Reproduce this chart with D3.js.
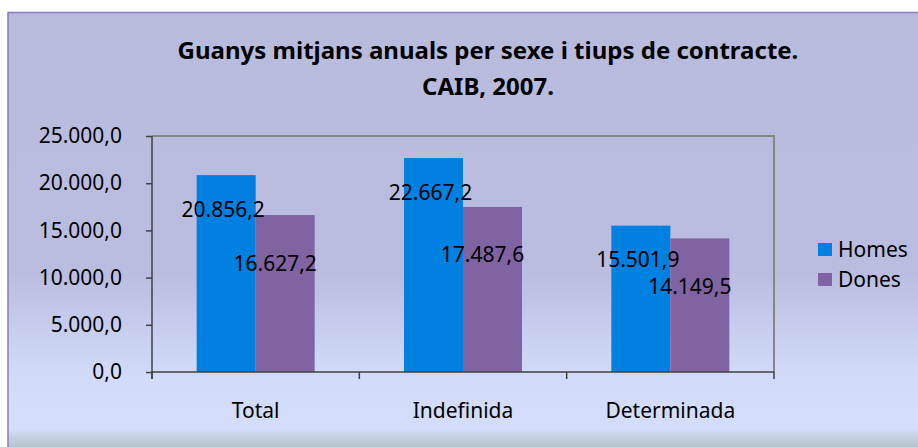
<!DOCTYPE html>
<html>
<head>
<meta charset="utf-8">
<script src="https://cdn.jsdelivr.net/npm/d3@7"></script>
<style>
  body { margin: 0; background: #fff; }
  text { font-family: "Noto Sans", "Open Sans", sans-serif; fill: #000; }
</style>
</head>
<body>
<svg id="chart"></svg>
<script>
const categories = ['Total', 'Indefinida', 'Determinada'];
const series = ['Homes', 'Dones'];
const homesValues = [20856.2, 22667.2, 15501.9];
const donesValues = [16627.2, 17487.6, 14149.5];
const yTicks = [0, 5000, 10000, 15000, 20000, 25000];
const titleLines = ['Guanys mitjans anuals per sexe i tiups de contracte.', 'CAIB, 2007.'];

const width = 918, height = 447;
const colors = { Homes: '#0080e0', Dones: '#8064a2' };
// label nudges per series (Excel labels sit off-centre)
const labelNudge = { Homes: { dx: -3, dy: 34 }, Dones: { dx: -10, dy: 48 } };

const rows = categories.map((c, i) => ({ cat: c, Homes: homesValues[i], Dones: donesValues[i] }));

const locale = d3.formatLocale({ decimal: ',', thousands: '.', grouping: [3], currency: ['', '€'] });
const fmt = locale.format(',.1f');

const svg = d3.select('#chart')
  .attr('width', width)
  .attr('height', height);

// background gradient
const grad = svg.append('defs').append('linearGradient')
  .attr('id', 'bg')
  .attr('x1', 0).attr('y1', 0).attr('x2', 0).attr('y2', 1);
[[0, '#b9bbdd'], [0.6, '#babde0'], [0.83, '#d1dbf9'], [0.955, '#d4defc'], [0.975, '#c3d0e0'], [1, '#b3c3c8']]
  .forEach(s => grad.append('stop').attr('offset', s[0]).attr('stop-color', s[1]));

svg.append('rect')
  .attr('x', 8).attr('y', 12.5)
  .attr('width', width).attr('height', 436)
  .attr('fill', 'url(#bg)')
  .attr('stroke', '#8c7cbf')
  .attr('stroke-width', 1.5);

const plot = { left: 152, right: 774, top: 136, bottom: 372 };

const x0 = d3.scaleBand()
  .domain(categories)
  .range([plot.left, plot.right])
  .padding(0);

const x1 = d3.scaleBand()
  .domain(series)
  .range([0, x0.bandwidth()])
  .paddingInner(0)
  .paddingOuter(0.757);

const y = d3.scaleLinear()
  .domain([0, 25000])
  .range([plot.bottom, plot.top]);

// plot area border (top + right)
svg.append('path')
  .attr('d', `M${plot.left},${plot.top}H${plot.right}V${plot.bottom}`)
  .attr('fill', 'none')
  .attr('stroke', '#868686')
  .attr('stroke-width', 2);

// bars
const groups = svg.append('g').selectAll('g')
  .data(rows)
  .join('g')
  .attr('transform', d => `translate(${x0(d.cat)},0)`);

groups.selectAll('rect')
  .data(d => series.map(s => ({ key: s, value: d[s] })))
  .join('rect')
  .attr('x', d => x1(d.key))
  .attr('y', d => y(d.value))
  .attr('width', x1.bandwidth())
  .attr('height', d => y(0) - y(d.value))
  .attr('fill', d => colors[d.key]);

groups.selectAll('text.lbl')
  .data(d => series.map(s => ({ key: s, value: d[s] })))
  .join('text')
  .attr('class', 'lbl')
  .attr('x', d => x1(d.key) + x1.bandwidth() / 2 + labelNudge[d.key].dx)
  .attr('y', d => y(d.value) + labelNudge[d.key].dy)
  .attr('dy', '0.36em')
  .attr('text-anchor', 'middle')
  .style('font-size', '21px')
  .text(d => fmt(d.value));

// axes
const yAxisG = svg.append('g')
  .attr('transform', `translate(${plot.left},0)`)
  .call(d3.axisLeft(y).tickValues(yTicks).tickSize(6).tickSizeOuter(0).tickPadding(24).tickFormat(fmt));
yAxisG.selectAll('text').style('font-size', '21px').attr('fill', '#000');
yAxisG.selectAll('line, path').attr('stroke', '#404040').attr('stroke-width', 1.5);
yAxisG.select('.domain').attr('d', `M0,${plot.top}V${plot.bottom + 7}`);

const xAxisG = svg.append('g')
  .attr('transform', `translate(0,${plot.bottom})`);
xAxisG.append('path')
  .attr('d', `M${plot.left},0H${plot.right}`)
  .attr('stroke', '#404040').attr('stroke-width', 1.5);
xAxisG.selectAll('line')
  .data(categories.concat(['end']))
  .join('line')
  .attr('x1', (d, i) => i < categories.length ? x0(d) : plot.right)
  .attr('x2', (d, i) => i < categories.length ? x0(d) : plot.right)
  .attr('y1', 0).attr('y2', 7)
  .attr('stroke', '#404040').attr('stroke-width', 1.5);
xAxisG.selectAll('text')
  .data(categories)
  .join('text')
  .attr('x', d => x0(d) + x0.bandwidth() / 2)
  .attr('y', 46)
  .attr('text-anchor', 'middle')
  .style('font-size', '21px')
  .text(d => d);

// title
svg.append('g').selectAll('text')
  .data(titleLines)
  .join('text')
  .attr('x', 488)
  .attr('y', (d, i) => 59 + i * 36)
  .attr('text-anchor', 'middle')
  .style('font-size', '24px')
  .style('font-weight', 'bold')
  .text(d => d);

// legend
const legend = svg.append('g')
  .attr('transform', 'translate(818,243)');
const legendItems = legend.selectAll('g')
  .data(series)
  .join('g')
  .attr('transform', (d, i) => `translate(0,${i * 30})`);
legendItems.append('rect')
  .attr('width', 14).attr('height', 13)
  .attr('fill', d => colors[d]);
legendItems.append('text')
  .attr('x', 20).attr('y', 14)
  .style('font-size', '21px')
  .text(d => d);
</script>
</body>
</html>
